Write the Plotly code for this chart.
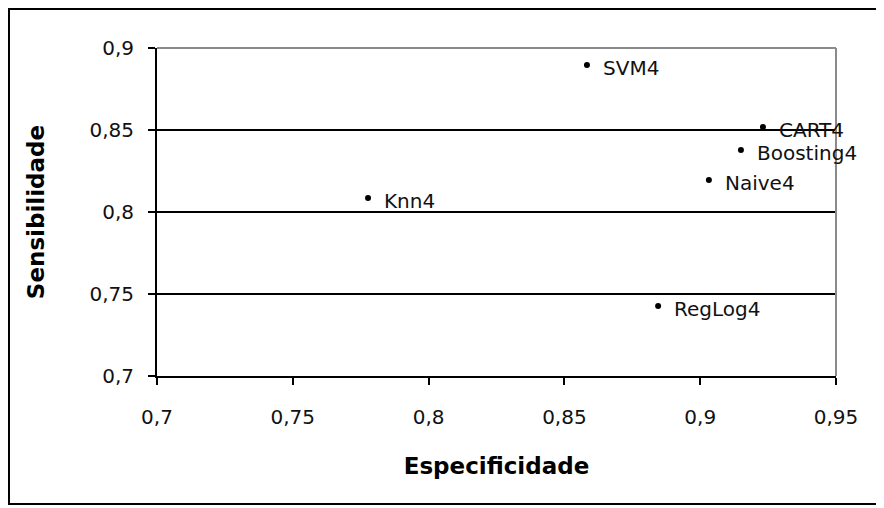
import plotly.graph_objects as go

# modelos: especificidade x sensibilidade
modelos = ["SVM4", "CART4", "Boosting4", "Naive4", "Knn4", "RegLog4"]
especificidade = [0.8583, 0.9231, 0.9150, 0.9032, 0.7777, 0.8845]
sensibilidade = [0.8896, 0.8518, 0.8378, 0.8195, 0.8085, 0.7427]

ticks = [0.7, 0.75, 0.8, 0.85, 0.9, 0.95]

FONT = "DejaVu Sans"

fig = go.Figure()
fig.add_trace(go.Scatter(
    x=especificidade, y=sensibilidade,
    mode="markers",
    marker=dict(size=6, color="black"),
    showlegend=False,
    hoverinfo="skip",
))

for nome, x, y in zip(modelos, especificidade, sensibilidade):
    fig.add_annotation(
        x=x, y=y, text=nome, showarrow=False,
        xanchor="left", yanchor="middle",
        xshift=14, yshift=-3,
        font=dict(family=FONT, size=20, color="#111"),
    )

# borda do gráfico (topo e direita cinza) e moldura externa
fig.add_shape(type="line", xref="paper", yref="paper", x0=0, x1=1, y0=1, y1=1,
              line=dict(color="#8a8a8a", width=2), layer="above")
fig.add_shape(type="line", xref="paper", yref="paper", x0=1, x1=1, y0=0, y1=1,
              line=dict(color="#8a8a8a", width=2), layer="above")
fig.add_shape(type="rect", xref="paper", yref="paper",
              x0=-0.218, x1=1.0648, y0=-0.39, y1=1.119,
              line=dict(color="black", width=2))

# a página tem margem de 8px no body; o tamanho compensa isso
fig.update_layout(
    width=876, height=500,
    paper_bgcolor="white", plot_bgcolor="white",
    margin=dict(l=149, r=48, t=40, b=132),
    separators=",.",
    font=dict(family=FONT, size=20, color="#111"),
    xaxis=dict(
        range=[0.7, 0.95], tickvals=ticks, showgrid=False, zeroline=False,
        showline=True, linecolor="black", linewidth=2,
        ticks="outside", ticklen=7, tickwidth=2, tickcolor="black",
        ticklabelstandoff=15,
        title=dict(text="<b>Especificidade</b>", standoff=30,
                   font=dict(family=FONT, size=23, color="black")),
    ),
    yaxis=dict(
        range=[0.7, 0.9], tickvals=ticks[:-1], showgrid=True,
        gridcolor="black", gridwidth=2, zeroline=False,
        showline=True, linecolor="black", linewidth=2,
        ticks="outside", ticklen=7, tickwidth=2, tickcolor="black",
        ticklabelstandoff=10,
        title=dict(text="<b>Sensibilidade</b>", standoff=38,
                   font=dict(family=FONT, size=23, color="black")),
    ),
)

fig.write_html("out.html")
